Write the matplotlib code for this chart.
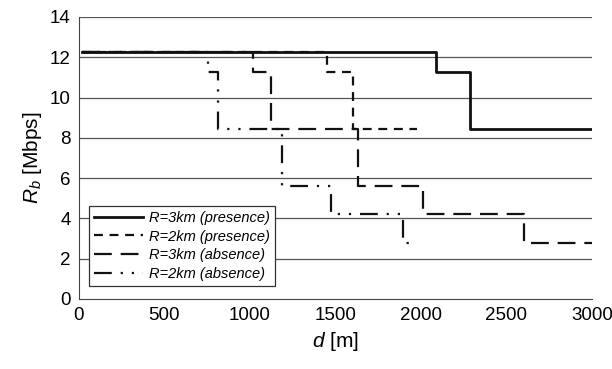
# Rb versus distance, step curves for R=3km / R=2km
import matplotlib.pyplot as plt

plt.rcParams['font.family'] = ['Liberation Sans', 'DejaVu Sans']
plt.rcParams['mathtext.fontset'] = 'custom'
plt.rcParams['mathtext.it'] = 'Liberation Sans:italic'
plt.rcParams['mathtext.rm'] = 'Liberation Sans'

# step edges (m) and rate levels (Mbps)
d_3k_pres = [20, 2090, 2290, 3000]
rb_3k_pres = [12.25, 11.25, 8.45]

d_2k_pres = [20, 1450, 1605, 1980]
rb_2k_pres = [12.25, 11.25, 8.45]

d_3k_abs = [20, 1020, 1125, 1630, 2015, 2605, 3000]
rb_3k_abs = [12.25, 11.25, 8.45, 5.6, 4.2, 2.8]

d_2k_abs = [20, 755, 815, 1185, 1475, 1895, 1950]
rb_2k_abs = [12.25, 11.25, 8.45, 5.6, 4.2, 2.8]

labels = ['R=3km (presence)', 'R=2km (presence)', 'R=3km (absence)', 'R=2km (absence)']


def steps(edges, levels):
    x, y = [], []
    for i, v in enumerate(levels):
        x += [edges[i], edges[i + 1]]
        y += [v, v]
    return x, y


fig = plt.figure(figsize=(6.12, 3.69), dpi=100)
ax = fig.add_axes([0.129, 0.19, 0.838, 0.764])

for y in range(2, 15, 2):
    ax.axhline(y, color='#555555', lw=0.9, zorder=1)

x, y = steps(d_3k_pres, rb_3k_pres)
ax.plot(x, y, color='#111111', lw=2, ls='-', label=labels[0], zorder=3)
x, y = steps(d_2k_pres, rb_2k_pres)
ax.plot(x, y, color='#111111', lw=1.6, ls=(0, (4, 3)), label=labels[1], zorder=3)
x, y = steps(d_3k_abs, rb_3k_abs)
ax.plot(x, y, color='#111111', lw=1.6, ls=(0, (8, 4)), label=labels[2], zorder=3)
x, y = steps(d_2k_abs, rb_2k_abs)
ax.plot(x, y, color='#111111', lw=1.6, ls=(0, (8, 4, 1, 4, 1, 4)), label=labels[3], zorder=3)

ax.set_xlim(0, 3000)
ax.set_ylim(0, 14)
ax.set_xticks(range(0, 3001, 500))
ax.set_yticks(range(0, 15, 2))
ax.tick_params(length=0, labelsize=13.5, pad=6)
for s in ['top', 'right']:
    ax.spines[s].set_visible(False)
for s in ['left', 'bottom']:
    ax.spines[s].set_color('#444444')

ax.set_xlabel(r'$d$ [m]', fontsize=15)
ax.set_ylabel(r'$R_b$ [Mbps]', fontsize=15)

leg = ax.legend(loc='lower left', bbox_to_anchor=(0.005, 0.02), fancybox=False,
                edgecolor='#333333', framealpha=1, handlelength=3.4,
                borderpad=0.35, labelspacing=0.32, handletextpad=0.4,
                prop={'style': 'italic', 'size': 10.5})
leg.get_frame().set_linewidth(0.9)

plt.savefig('out.png')
